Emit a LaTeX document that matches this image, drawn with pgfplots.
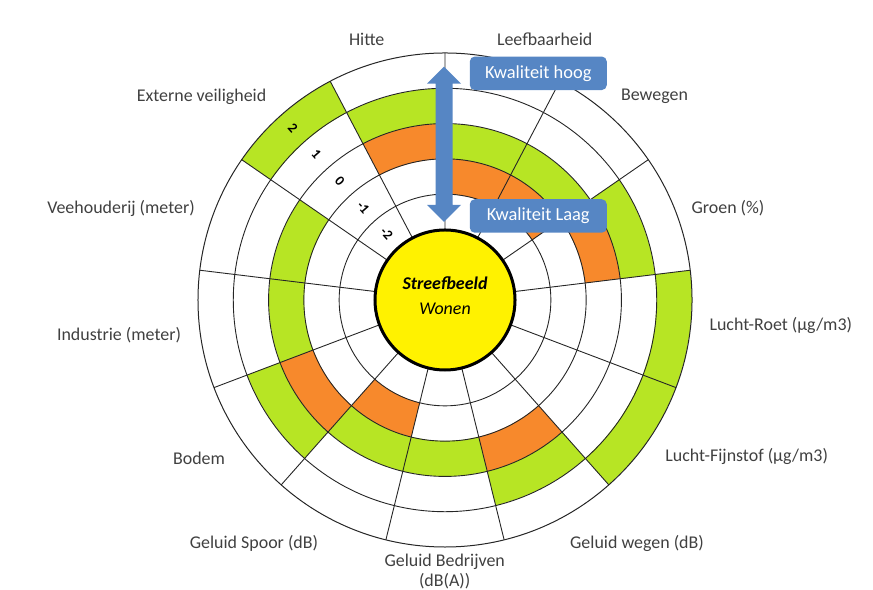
\documentclass[border=0pt]{standalone}
\usepackage{fontspec}
\setmainfont{Carlito}
\usepackage{pgfplots}
\pgfplotsset{compat=1.18}
\usepgfplotslibrary{polar}
\definecolor{limegr}{RGB}{183,229,36}
\definecolor{orng}{RGB}{247,137,44}
\definecolor{kblue}{RGB}{86,134,196}
\definecolor{txt}{RGB}{64,64,64}
\tikzset{cell/.style={line width=35.4bp, line cap=butt, line join=miter, mark=none},
  lbl/.style={text=txt, font=\fontsize{18}{21}\selectfont, inner sep=0pt},
  dig/.style={rotate=-48.5, font=\bfseries\fontsize{14}{14}\selectfont, inner sep=0pt}}
\begin{document}
\begin{tikzpicture}[x=1bp,y=1bp]
\path[use as bounding box] (0,0) rectangle (873,590);
\begin{polaraxis}[
  at={(445bp,290bp)}, anchor=center,
  scale only axis, width=494bp, height=494bp,
  xmin=0, xmax=360, ymin=0, ymax=7,
  xtick={6.9231,34.6154,62.3077,90,117.6923,145.3846,173.0769,200.7692,228.4615,256.1538,283.8462,311.5385,339.2308},
  ytick={2,3,4,5,6},
  xticklabels={}, yticklabels={},
  major tick length=0pt,
  grid=major,
  grid style={black!85, line width=0.9bp},
  axis line style={black!85, line width=1bp},
  y axis line style={draw=none},
  axis on top,
]
% radius = level + 4.5 (level -2 ... 2); angles in degrees
% green (streefbeeld) cells
\addplot[cell, limegr] coordinates {(90,4.5) (89.7,4.5) (83.077,4.5) (76.154,4.5) (69.231,4.5) (62.308,4.5) (55.385,4.5) (48.462,4.5) (41.538,4.5) (34.915,4.5) (34.615,4.5)};
\addplot[cell, limegr] coordinates {(34.615,5.5) (34.315,5.5) (27.692,5.5) (20.769,5.5) (13.846,5.5) (7.223,5.5) (6.923,5.5)};
\addplot[cell, limegr] coordinates {(6.923,6.5) (6.623,6.5) (0,6.5) (353.077,6.5) (346.154,6.5) (339.231,6.5) (332.308,6.5) (325.385,6.5) (318.462,6.5) (311.838,6.5) (311.538,6.5)};
\addplot[cell, limegr] coordinates {(311.538,5.5) (311.238,5.5) (304.615,5.5) (297.692,5.5) (290.769,5.5) (284.146,5.5) (283.846,5.5)};
\addplot[cell, limegr] coordinates {(283.846,4.5) (283.546,4.5) (276.923,4.5) (270,4.5) (263.077,4.5) (256.154,4.5) (249.231,4.5) (242.308,4.5) (235.385,4.5) (228.762,4.5) (228.462,4.5)};
\addplot[cell, limegr] coordinates {(228.462,5.5) (228.162,5.5) (221.538,5.5) (214.615,5.5) (207.692,5.5) (201.069,5.5) (200.769,5.5)};
\addplot[cell, limegr] coordinates {(200.769,4.5) (200.469,4.5) (193.846,4.5) (186.923,4.5) (180,4.5) (173.077,4.5) (166.154,4.5) (159.231,4.5) (152.308,4.5) (145.685,4.5) (145.385,4.5)};
\addplot[cell, limegr] coordinates {(145.385,6.5) (145.085,6.5) (138.462,6.5) (131.538,6.5) (124.615,6.5) (117.992,6.5) (117.692,6.5)};
\addplot[cell, limegr] coordinates {(117.692,5.5) (117.392,5.5) (110.769,5.5) (103.846,5.5) (96.923,5.5) (90.3,5.5) (90,5.5)};
% orange (huidige situatie) cells
\addplot[cell, orng] coordinates {(90,3.5) (89.7,3.5) (83.077,3.5) (76.154,3.5) (69.231,3.5) (62.308,3.5) (55.385,3.5) (48.462,3.5) (41.538,3.5) (34.915,3.5) (34.615,3.5)};
\addplot[cell, orng] coordinates {(34.615,4.5) (34.315,4.5) (27.692,4.5) (20.769,4.5) (13.846,4.5) (7.223,4.5) (6.923,4.5)};
\addplot[cell, orng] coordinates {(311.538,4.5) (311.238,4.5) (304.615,4.5) (297.692,4.5) (290.769,4.5) (284.146,4.5) (283.846,4.5)};
\addplot[cell, orng] coordinates {(256.154,3.5) (255.854,3.5) (249.231,3.5) (242.308,3.5) (235.385,3.5) (228.762,3.5) (228.462,3.5)};
\addplot[cell, orng] coordinates {(228.462,4.5) (228.162,4.5) (221.538,4.5) (214.615,4.5) (207.692,4.5) (201.069,4.5) (200.769,4.5)};
\addplot[cell, orng] coordinates {(117.692,4.5) (117.392,4.5) (110.769,4.5) (103.846,4.5) (96.923,4.5) (90.3,4.5) (90,4.5)};
\end{polaraxis}
% centre
\node[circle, fill=yellow, draw=black, line width=3bp, minimum size=140bp, inner sep=0pt] at (445,290) {};
\node[font=\bfseries\itshape\fontsize{18}{20}\selectfont] at (445,307) {Streefbeeld};
\node[font=\itshape\fontsize{18}{20}\selectfont] at (445,281) {Wonen};
% level numbers
\node[dig] at (293.0,462.3) {2};
\node[dig] at (316.4,435.4) {1};
\node[dig] at (339.8,408.9) {0};
\node[dig] at (363.2,382.5) {-1};
\node[dig] at (386.6,356.1) {-2};
% arrow and boxes
\fill[kblue] (444,523.3) -- (461,506.3) -- (452.5,506.3) -- (452.5,385) -- (461,385) -- (444,368) -- (427,385) -- (435.5,385) -- (435.5,506.3) -- (427,506.3) -- cycle;
\node[fill=kblue, rounded corners=5bp, minimum width=137bp, minimum height=33.5bp, text=white, font=\fontsize{18.5}{20}\selectfont] at (538.3,516.7) {Kwaliteit hoog};
\node[fill=kblue, rounded corners=5bp, minimum width=137bp, minimum height=33.5bp, text=white, font=\fontsize{18.5}{20}\selectfont] at (538.3,374) {Kwaliteit Laag};
% category labels
\node[lbl] at (366.7,551) {Hitte};
\node[lbl] at (544.7,551) {Leefbaarheid};
\node[lbl] at (654.5,493.3) {Bewegen};
\node[lbl] at (728,382) {Groen (\%)};
\node[lbl] at (780.8,265) {Lucht-Roet (µg/m3)};
\node[lbl] at (746.7,133.3) {Lucht-Fijnstof (µg/m3)};
\node[lbl] at (637,46.7) {Geluid wegen (dB)};
\node[lbl, align=center] at (444.7,18.5) {Geluid Bedrijven\\(dB(A))};
\node[lbl] at (254,46.7) {Geluid Spoor (dB)};
\node[lbl] at (199,132) {Bodem};
\node[lbl] at (119,255) {Industrie (meter)};
\node[lbl] at (121,382) {Veehouderij (meter)};
\node[lbl] at (201.5,493) {Externe veiligheid};
\end{tikzpicture}
\end{document}
